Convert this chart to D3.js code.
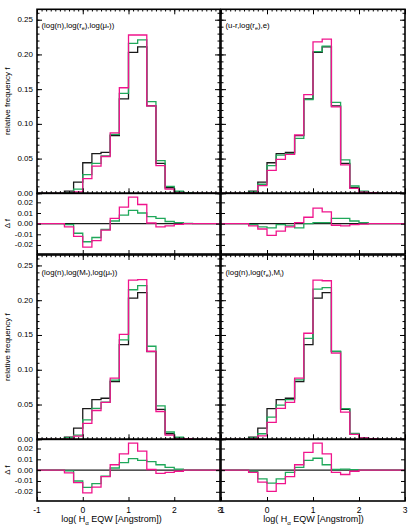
<!DOCTYPE html>
<html><head><meta charset="utf-8">
<script src="https://cdn.jsdelivr.net/npm/d3@7"></script>
<style>
body{margin:0;background:#fff;}
text{font-family:"Liberation Sans",Arial,Helvetica,sans-serif;fill:#000;}
</style>
</head><body><svg id="c" width="415" height="525"></svg>
<script>
// ---------- DATA ----------
const binEdges = [-1.0,-0.8,-0.6,-0.4,-0.2,0.0,0.2,0.4,0.6,0.8,1.0,1.2,1.4,1.6,1.8,2.0,2.2,2.4,2.6,2.8,3.0];
const observed = [0,0,0,0.003,0.016,0.044,0.057,0.059,0.083,0.136,0.203,0.211,0.126,0.043,0.008,0.002,0.001,0,0,0];

const p1Green  = [0,0,0,0.001,0.006,0.027,0.043,0.054,0.085,0.144,0.216,0.221,0.132,0.047,0.010,0.003,0.001,0,0,0];
const p1Pink   = [0,0,0,0,0.002,0.021,0.039,0.053,0.087,0.152,0.228,0.228,0.126,0.040,0.006,0.001,0,0,0,0];
const p1DGreen = [0,0,0,-0.001,-0.009,-0.017,-0.013,-0.0055,0.0025,0.008,0.0125,0.010,0.0066,0.005,0.002,0.001,0.0003,0,0,0];
const p1DPink  = [0,0,0,-0.003,-0.012,-0.022,-0.016,-0.006,0.005,0.0156,0.025,0.018,0.0006,-0.003,-0.002,-0.0006,0,0,0,0];

const p2Green  = [0,0,0,0.002,0.013,0.040,0.055,0.057,0.079,0.135,0.204,0.212,0.131,0.048,0.0105,0.003,0.001,0,0,0];
const p2Pink   = [0,0,0,0.001,0.011,0.033,0.049,0.056,0.084,0.142,0.218,0.222,0.1245,0.041,0.007,0.0015,0.001,0,0,0];
const p2DGreen = [0,0,0,-0.001,-0.003,-0.004,-0.001,-0.002,-0.004,0,0.001,0.001,0.005,0.005,0.0025,0.001,0,0,0,0];
const p2DPink  = [0,0,0,-0.002,-0.005,-0.011,-0.007,-0.003,0.001,0.006,0.0145,0.011,-0.0015,-0.002,-0.001,-0.0005,0,0,0,0];

const p3Green  = [0,0,0,0.0024,0.006,0.028,0.0445,0.0534,0.085,0.143,0.215,0.221,0.1338,0.048,0.0105,0.003,0.001,0,0,0];
const p3Pink   = [0,0,0,0.0005,0.0045,0.023,0.0414,0.053,0.088,0.151,0.229,0.2295,0.1266,0.040,0.006,0.001,0.001,0,0,0];
const p3DGreen = [0,0,0,-0.0006,-0.010,-0.016,-0.0125,-0.0056,0.002,0.007,0.0106,0.009,0.0078,0.005,0.0025,0.001,0,0,0,0];
const p3DPink  = [0,0,0,-0.0025,-0.0115,-0.021,-0.0156,-0.006,0.005,0.015,0.025,0.0175,0.0006,-0.003,-0.002,-0.001,0,0,0,0];

const p4Green  = [0,0,0,0.002,0.008,0.032,0.049,0.057,0.0855,0.145,0.216,0.218,0.1266,0.044,0.0085,0.002,0.001,0,0,0];
const p4Pink   = [0,0,0,0.001,0.005,0.0243,0.0445,0.053,0.088,0.1525,0.229,0.228,0.124,0.039,0.007,0.002,0.001,0,0,0];
const p4DGreen = [0,0,0,-0.001,-0.008,-0.012,-0.008,-0.002,0.0025,0.009,0.011,0.005,0.0006,0.001,0.0005,0,0,0,0,0];
const p4DPink  = [0,0,0,-0.002,-0.011,-0.0197,-0.0125,-0.006,0.005,0.0165,0.025,0.015,-0.002,-0.004,-0.001,0,0,0,0,0];

const observedDelta = [0,0,0,0,0,0,0,0,0,0,0,0,0,0,0,0,0,0,0,0];

// labels: segments [text, isSubscript]
const panelLabels = [
  [["(log(n),log(r",0],["e",1],["),log(μ",0],["*",1],["))",0]],
  [["(u-r,log(r",0],["e",1],["),e)",0]],
  [["(log(n),log(M",0],["*",1],["),log(μ",0],["*",1],["))",0]],
  [["(log(n),log(r",0],["e",1],["),M",0],["i",1],[")",0]]
];
const xTitle = [["log( H",0],["α",1],[" EQW [Angstrom])",0]];
const yTitleHist = "relative frequency f";
const yTitleDelta = "Δ f";

const xTicks = [-1,0,1,2,3];
const xTickLabels = ["-1","0","1","2","3"];
const histTicks = [0,0.05,0.10,0.15,0.20,0.25];
const histTickLabels = ["0.00","0.05","0.10","0.15","0.20","0.25"];
const deltaTicks = [-0.02,-0.01,0,0.01,0.02];
const deltaTickLabels = ["-0.02","-0.01","0.00","0.01","0.02"];

const seriesColors = {obs:"#1a1a1a", green:"#1fa85a", pink:"#f0148c"};

const panels = [
  {col:0,row:0,green:p1Green,pink:p1Pink,dg:p1DGreen,dp:p1DPink,label:panelLabels[0]},
  {col:1,row:0,green:p2Green,pink:p2Pink,dg:p2DGreen,dp:p2DPink,label:panelLabels[1]},
  {col:0,row:1,green:p3Green,pink:p3Pink,dg:p3DGreen,dp:p3DPink,label:panelLabels[2]},
  {col:1,row:1,green:p4Green,pink:p4Pink,dg:p4DGreen,dp:p4DPink,label:panelLabels[3]}
];

// ---------- LAYOUT ----------
const cols = [{x0:37,x1:220},{x0:221,x1:405}];
const rows = [{hTop:9.3,hBot:193.3,dBot:254},{hTop:255,hBot:439.3,dBot:501}];

const svg = d3.select("#c");

function addText(g, segs, x, y, size, anchor){
  const t = g.append("text").attr("x",x).attr("y",y).attr("font-size",size)
    .attr("text-anchor",anchor||"start");
  const sh = size*0.28;
  let shifted = false;
  segs.forEach(([s,sub])=>{
    const ts = t.append("tspan").text(s);
    if(sub){
      ts.attr("font-size",size*0.68).attr("dy",sh);
      shifted = true;
    } else if(shifted){
      ts.attr("dy",-sh);
      shifted = false;
    }
  });
  return t;
}

function tickAxis(g, axisFn, scale, values, len){
  g.call(axisFn(scale).tickValues(values).tickSize(-len).tickFormat(""));
  g.select(".domain").remove();
  g.selectAll("text").remove();
  g.selectAll("line").attr("stroke","#000").attr("stroke-width",1);
}

const xMinor = d3.range(-1,3.0001,0.1);
const yMinorHist = d3.range(0,0.2651,0.01);

function stepPts(vals){
  const pts = vals.map((v,i)=>[binEdges[i],v]);
  pts.push([binEdges[binEdges.length-1], vals[vals.length-1]]);
  return pts;
}

panels.forEach((p,pi)=>{
  const c = cols[p.col], r = rows[p.row];
  const x = d3.scaleLinear().domain([-1,3]).range([c.x0,c.x1]);
  const yH = d3.scaleLinear().domain([0,0.265]).range([r.hBot,r.hTop]);
  const yD = d3.scaleLinear().domain([-0.0285,0.0285]).range([r.dBot,r.hBot]);

  const g = svg.append("g");
  const cid = "clipH"+pi, did = "clipD"+pi;
  svg.append("clipPath").attr("id",cid).append("rect")
    .attr("x",c.x0).attr("y",r.hTop).attr("width",c.x1-c.x0).attr("height",r.hBot-r.hTop);
  svg.append("clipPath").attr("id",did).append("rect")
    .attr("x",c.x0).attr("y",r.hBot).attr("width",c.x1-c.x0).attr("height",r.dBot-r.hBot);

  const lineH = d3.line().x(d=>x(d[0])).y(d=>yH(d[1])).curve(d3.curveStepAfter);
  const lineD = d3.line().x(d=>x(d[0])).y(d=>yD(d[1])).curve(d3.curveStepAfter);
  const gh = g.append("g").attr("clip-path",`url(#${cid})`);
  [[observed,seriesColors.obs],[p.green,seriesColors.green],[p.pink,seriesColors.pink]].forEach(([v,col])=>{
    gh.append("path").attr("d",lineH(stepPts(v))).attr("fill","none")
      .attr("stroke",col).attr("stroke-width",1.3);
  });
  const gd = g.append("g").attr("clip-path",`url(#${did})`);
  [[observedDelta,seriesColors.obs],[p.dg,seriesColors.green],[p.dp,seriesColors.pink]].forEach(([v,col])=>{
    gd.append("path").attr("d",lineD(stepPts(v))).attr("fill","none")
      .attr("stroke",col).attr("stroke-width",1.3);
  });

  tickAxis(g.append("g").attr("transform",`translate(0,${r.hBot})`), d3.axisBottom, x, xMinor, 2.2);
  tickAxis(g.append("g").attr("transform",`translate(0,${r.hBot})`), d3.axisBottom, x, xTicks, 5);
  tickAxis(g.append("g").attr("transform",`translate(0,${r.hTop})`), d3.axisTop, x, xMinor, 2.2);
  tickAxis(g.append("g").attr("transform",`translate(0,${r.hTop})`), d3.axisTop, x, xTicks, 5);
  tickAxis(g.append("g").attr("transform",`translate(${c.x0},0)`), d3.axisLeft, yH, yMinorHist, 2.5);
  tickAxis(g.append("g").attr("transform",`translate(${c.x0},0)`), d3.axisLeft, yH, histTicks, 5);
  tickAxis(g.append("g").attr("transform",`translate(${c.x1},0)`), d3.axisRight, yH, yMinorHist, 2.5);
  tickAxis(g.append("g").attr("transform",`translate(${c.x1},0)`), d3.axisRight, yH, histTicks, 5);
  tickAxis(g.append("g").attr("transform",`translate(0,${r.dBot})`), d3.axisBottom, x, xTicks, 4);
  tickAxis(g.append("g").attr("transform",`translate(${c.x0},0)`), d3.axisLeft, yD, deltaTicks, 4);
  tickAxis(g.append("g").attr("transform",`translate(${c.x1},0)`), d3.axisRight, yD, deltaTicks, 4);

  g.append("rect").attr("x",c.x0).attr("y",r.hTop).attr("width",c.x1-c.x0).attr("height",r.hBot-r.hTop)
    .attr("fill","none").attr("stroke","#000").attr("stroke-width",1.6);
  g.append("rect").attr("x",c.x0).attr("y",r.hBot).attr("width",c.x1-c.x0).attr("height",r.dBot-r.hBot)
    .attr("fill","none").attr("stroke","#000").attr("stroke-width",1.6);

  if(p.col===0){
    histTicks.forEach((t,i)=>{
      g.append("text").attr("x",c.x0-4).attr("y",yH(t)+2.5).attr("font-size",8)
        .attr("text-anchor","end").text(histTickLabels[i]);
    });
    deltaTicks.forEach((t,i)=>{
      g.append("text").attr("x",c.x0-4).attr("y",yD(t)+2.5).attr("font-size",8)
        .attr("text-anchor","end").text(deltaTickLabels[i]);
    });
    g.append("text").attr("transform",`translate(10,${(r.hTop+r.hBot)/2}) rotate(-90)`)
      .attr("font-size",8).attr("text-anchor","middle").text(yTitleHist);
    g.append("text").attr("transform",`translate(10,${(r.hBot+r.dBot)/2}) rotate(-90)`)
      .attr("font-size",8).attr("text-anchor","middle").text(yTitleDelta);
  }
  if(p.row===1){
    xTicks.forEach((t,i)=>{
      g.append("text").attr("x",x(t)).attr("y",r.dBot+12).attr("font-size",8.5)
        .attr("text-anchor","middle").text(xTickLabels[i]);
    });
    const tx = p.col===0 ? 111.5 : 313.5;
    addText(g, xTitle, tx, r.dBot+21, 9, "middle");
  }
  addText(g, p.label, c.x0+4.5, r.hTop + (p.row===0?18.5:19.5), 7.8, "start");
});
</script>
</body></html>
